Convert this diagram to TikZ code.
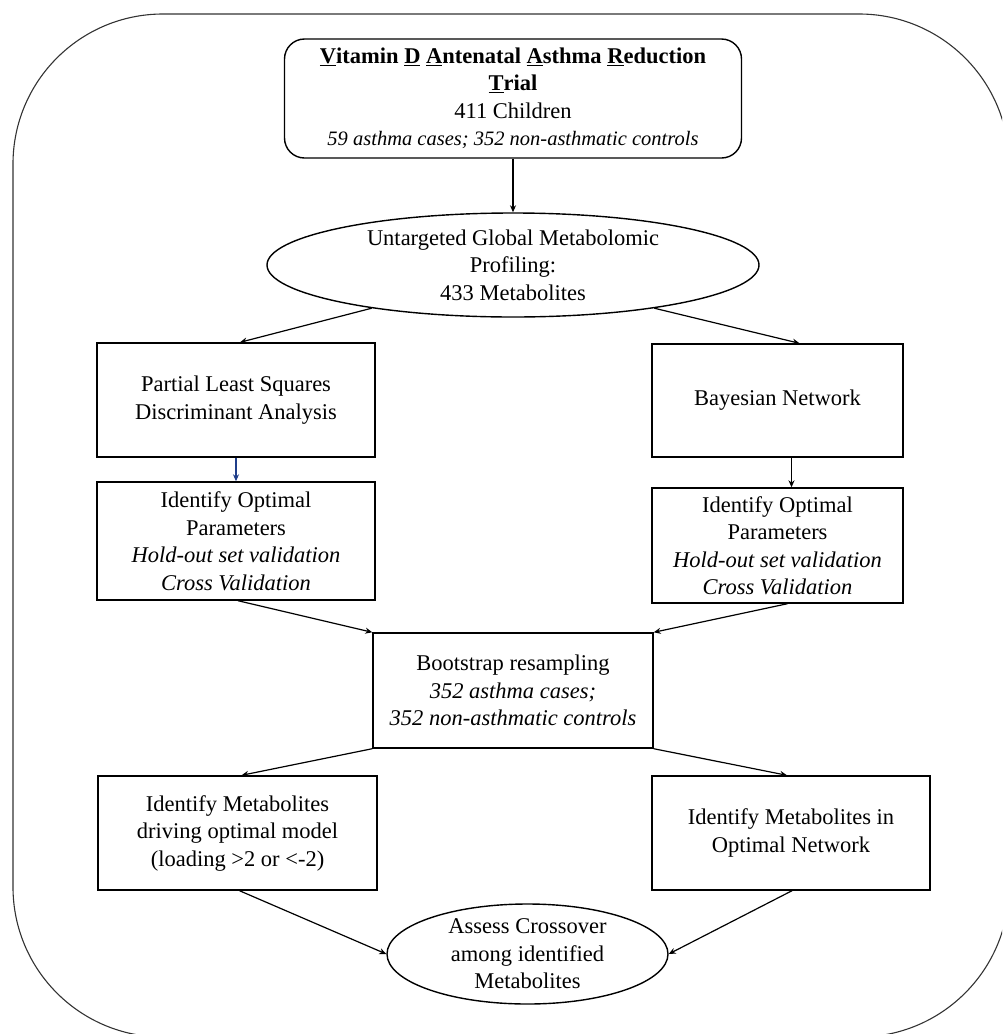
\documentclass[tikz,border=0pt]{standalone}
\usepackage{fontspec}
\setmainfont{Liberation Serif}
\usetikzlibrary{shapes.geometric,arrows.meta}
\definecolor{arrowblue}{HTML}{1F3E8A}
\begin{document}
\begin{tikzpicture}[x=1pt,y=-1pt,
  every node/.style={font=\fontsize{22.5}{27.5}\selectfont, align=center, inner sep=0pt},
  flowbox/.style={draw, line width=1.4pt, rectangle},
  topbox/.style={draw, line width=1.4pt, rectangle, rounded corners=20pt},
  ovalbox/.style={draw, line width=1.4pt, ellipse},
  conn/.style={line width=1.2pt, -{Stealth[length=7pt,width=6pt]}},
  frame/.style={line width=1.1pt, draw=black!80, rounded corners=150pt}]
\useasboundingbox (0,0) rectangle (1002,1034);
\begin{scope}
\clip (0,0) rectangle (1002,1034);
\draw[frame] (13,14) rectangle (1009,1037);
\end{scope}

\node[topbox, minimum width=457pt, minimum height=119pt] (top) at (513,98.5)
  {\textbf{\underline{V}itamin \underline{D} \underline{A}ntenatal \underline{A}sthma \underline{R}eduction}\\
   \textbf{\underline{T}rial}\\
   411 Children\\
   {\fontsize{20.5}{24}\selectfont\textit{59 asthma cases; 352 non-asthmatic controls}}};

\node[ovalbox, minimum width=492pt, minimum height=104pt] (prof) at (513,265)
  {Untargeted Global Metabolomic\\ Profiling:\\ 433 Metabolites};

\node[flowbox, minimum width=278pt, minimum height=114pt] (pls) at (236,400)
  {Partial Least Squares\\ Discriminant Analysis};
\node[flowbox, minimum width=278pt, minimum height=118pt] (idl) at (236,541)
  {Identify Optimal\\ Parameters\\ \textit{Hold-out set validation}\\ \textit{Cross Validation}};

\node[flowbox, minimum width=251pt, minimum height=113pt] (bayes) at (777.5,400.5)
  {Bayesian Network};
\node[flowbox, minimum width=251pt, minimum height=115pt] (idr) at (777.5,545.5)
  {Identify Optimal\\ Parameters\\ \textit{Hold-out set validation}\\ \textit{Cross Validation}};

\node[flowbox, minimum width=280pt, minimum height=115pt] (boot) at (513,690.5)
  {Bootstrap resampling\\ \textit{352 asthma cases;}\\ \textit{352 non-asthmatic controls}};

\node[flowbox, minimum width=279pt, minimum height=114pt] (metl) at (237.5,833)
  {Identify Metabolites\\ driving optimal model\\ (loading >2 or <-2)};
\node[flowbox, minimum width=278pt, minimum height=114pt] (metr) at (791,833)
  {Identify Metabolites in\\ Optimal Network};

\node[ovalbox, minimum width=281pt, minimum height=100pt] (cross) at (527.5,954)
  {Assess Crossover\\ among identified\\ Metabolites};

\draw[conn] (top.south) -- (prof.north);
\draw[conn] (prof.-163) -- ([xshift=4pt]pls.north);
\draw[conn] (prof.-17) -- ([xshift=22pt]bayes.north);
\draw[conn, draw=arrowblue] (pls.south) -- (idl.north);
\draw[conn] ([xshift=14pt]bayes.south) -- ([xshift=14pt]idr.north);
\draw[conn] ([xshift=2pt]idl.south) -- (boot.north west);
\draw[conn] ([xshift=10pt]idr.south) -- (boot.north east);
\draw[conn] (boot.south west) -- ([xshift=4pt]metl.north);
\draw[conn] (boot.south east) -- ([xshift=-4pt]metr.north);
\draw[conn] ([xshift=2pt]metl.south) -- (cross.west);
\draw[conn] ([xshift=1pt]metr.south) -- (cross.east);
\end{tikzpicture}
\end{document}
